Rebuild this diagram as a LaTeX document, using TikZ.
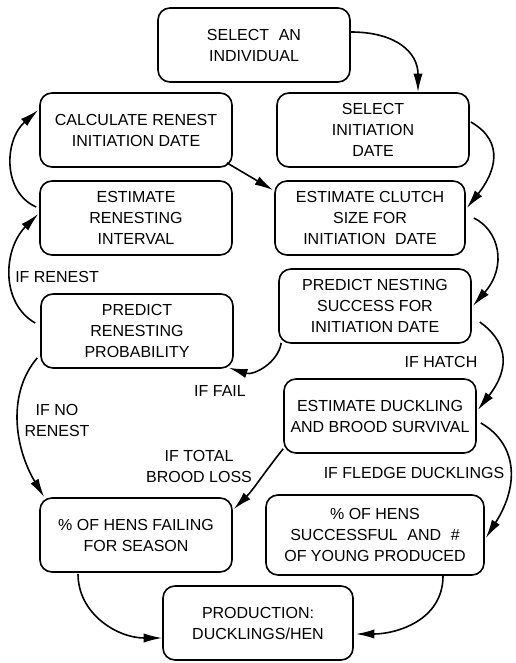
\documentclass[tikz,border=0pt]{standalone}
\usepackage{fontspec}
\setmainfont{Liberation Sans}
\usetikzlibrary{calc,arrows.meta}
\tikzset{
  box/.style={draw, line width=1.2pt, rounded corners=9pt, align=center, inner sep=0pt,
    font=\fontsize{12}{15.75}\selectfont, minimum width=144pt, minimum height=55.5pt},
  lbl/.style={align=center, inner sep=0pt, font=\fontsize{12}{15.75}\selectfont},
  arr/.style={line width=1.2pt, -{Latex[length=14pt,width=7pt]}}
}
\begin{document}
\begin{tikzpicture}[x=0.75pt,y=-0.75pt]
\useasboundingbox (0,0) rectangle (515,663);
\node[box] (A) at (254,45) {SELECT\hspace{0.6em}AN\\INDIVIDUAL};
\node[box] (B) at (373,130) {SELECT\\INITIATION\\DATE};
\node[box] (C) at (136,130) {CALCULATE RENEST\\INITIATION DATE};
\node[box] (D) at (136,218) {ESTIMATE\\RENESTING\\INTERVAL};
\node[box, minimum width=142.5pt] (E) at (370,218) {ESTIMATE CLUTCH\\SIZE FOR\\INITIATION\hspace{0.6em}DATE};
\node[box] (F) at (375,306) {PREDICT NESTING\\SUCCESS FOR\\INITIATION DATE};
\node[box] (G) at (137,331) {PREDICT\\RENESTING\\PROBABILITY};
\node[box] (H) at (380,416) {ESTIMATE DUCKLING\\AND BROOD SURVIVAL};
\node[box] (I) at (136,535) {\% OF HENS FAILING\\FOR SEASON};
\node[box, minimum width=163.5pt, minimum height=60pt] (J) at (375,535) {\% OF HENS\\SUCCESSFUL\hspace{0.6em}AND\hspace{0.6em}\#\\OF YOUNG PRODUCED};
\node[box, minimum width=142.5pt] (K) at (258,623) {PRODUCTION:\\DUCKLINGS/HEN};

\node[lbl, anchor=west] (l1) at (15,277) {IF RENEST};
\node[lbl] (l2) at (220,391) {IF FAIL};
\node[lbl] (l3) at (441,362) {IF HATCH};
\node[lbl] (l4) at (57,420) {IF NO\\RENEST};
\node[lbl] (l5) at (199,466) {IF TOTAL\\BROOD LOSS};
\node[lbl] (l6) at (414,473) {IF FLEDGE DUCKLINGS};

\draw[arr] ($(A.east)+(0,-13)$) .. controls +(45,0) and +(0,-40) .. ($(B.north)+(45,0)$);
\draw[arr] ($(B.east)+(1,-8)$) .. controls +(35,20) and +(28,-35) .. ($(E.east)+(1,-10)$);
\draw[arr] ($(E.east)+(8,0)$) .. controls +(25,12) and +(35,-40) .. ($(F.east)+(1,0)$);
\draw[arr] ($(F.east)+(8,16)$) .. controls +(25,18) and +(35,-45) .. ($(H.east)+(1,-6)$);
\draw[arr] ($(H.east)+(4,7)$) .. controls +(35,20) and +(35,-55) .. ($(J.east)+(1,3)$);
\draw[arr] ($(H.south west)+(0,-5)$) .. controls +(-20,25) and +(20,-20) .. ($(I.north east)+(1,12)$);
\draw[arr] ($(F.south west)+(3,-1)$) .. controls +(-3,20) and +(25,8) .. ($(G.south east)+(-5,-1)$);
\draw[arr] ($(G.west)+(-5,-8)$) .. controls +(-35,-20) and +(-35,35) .. ($(D.west)+(-1,-4)$);
\draw[arr] ($(D.west)+(-3,-11)$) .. controls +(-34,-15) and +(-34,30) .. ($(C.west)+(-1,-20)$);
\draw[arr] ($(C.south east)+(-6,-5)$) -- ($(E.north west)+(-1,10)$);
\draw[arr] ($(G.west)+(-3,27)$) .. controls +(-30,35) and +(-30,-50) .. ($(I.north west)+(5,0)$);
\draw[arr] ($(I.south)+(-58,1)$) .. controls +(0,40) and +(-45,0) .. ($(K.west)+(0,15)$);
\draw[arr] ($(J.south)+(68,0)$) .. controls +(0,45) and +(40,0) .. ($(K.east)+(2,11)$);
\end{tikzpicture}
\end{document}
